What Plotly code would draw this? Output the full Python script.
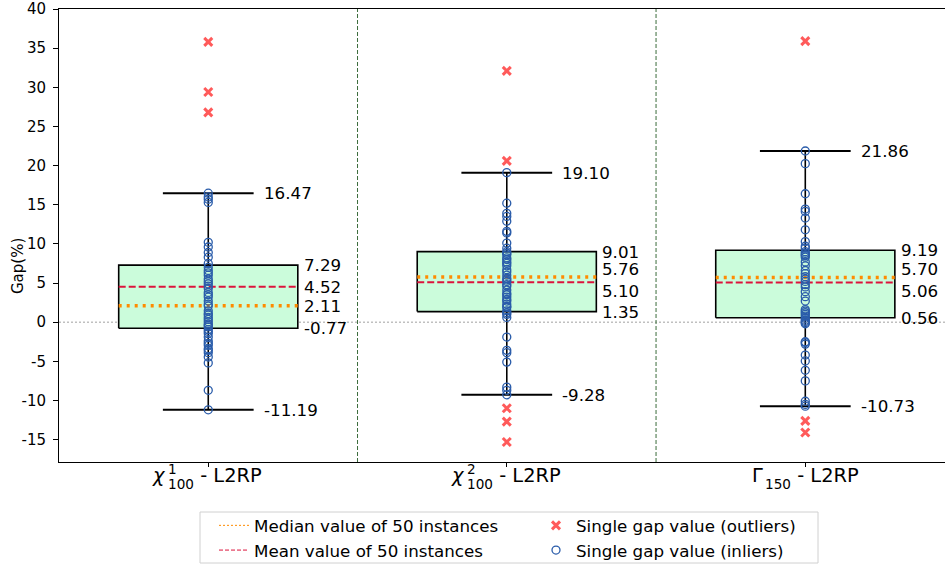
import plotly.graph_objects as go

# ---------------- data ----------------
tick_symbol = ["<i>χ</i>", "<i>χ</i>", "Γ"]
tick_sup = ["1", "2", ""]
tick_sub = ["100", "100", "150"]
tick_suffix = " - L2RP"

q1 = [-0.77, 1.35, 0.56]
q3 = [7.29, 9.01, 9.19]
median = [2.11, 5.76, 5.70]
mean = [4.52, 5.10, 5.06]
whisk_lo = [-11.19, -9.28, -10.73]
whisk_hi = [16.47, 19.10, 21.86]

inliers_1 = [16.47, 16.0, 15.7, 15.3, 10.2, 9.6, 8.9, 8.3, 7.5, 7.0, 6.6, 6.3, 6.0, 5.5, 5.2,
             4.9, 4.6, 4.3, 3.8, 3.5, 3.2, 2.7, 2.3, 2.05, 1.45, 1.1, 0.9, 0.6, 0.35, 0.05,
             -0.25, -0.4, -0.6, -0.95, -1.2, -1.45, -1.9, -2.4, -2.7, -2.95, -3.4, -3.6,
             -3.9, -4.45, -5.2, -8.7, -11.19]
outliers_1 = [35.8, 29.4, 26.8]

inliers_2 = [19.10, 15.2, 13.9, 13.5, 12.9, 11.6, 11.4, 10.1, 9.45, 9.0, 8.8, 8.6, 8.2, 8.0,
             7.7, 7.5, 7.2, 6.7, 6.4, 6.0, 5.6, 5.4, 5.2, 4.8, 4.6, 4.1, 3.7, 3.5, 3.2, 2.9,
             2.7, 2.3, 2.0, 1.9, 1.45, 1.2, 1.0, 0.6, -1.9, -3.6, -3.9, -5.1, -8.3, -8.7, -9.28]
outliers_2 = [32.1, 20.6, -11.0, -12.7, -15.3]

inliers_3 = [21.86, 20.25, 16.4, 14.45, 14.15, 13.3, 11.8, 10.3, 9.7, 9.45, 9.0, 8.8, 8.6,
             8.5, 8.3, 7.7, 7.2, 6.6, 6.2, 5.8, 5.5, 5.2, 4.8, 4.5, 3.9, 3.25, 2.7, 1.6, 1.4,
             1.2, 1.0, 0.77, 0.5, 0.26, 0.1, -0.08, -0.2, -2.5, -2.6, -2.8, -4.2, -4.95,
             -6.15, -7.5, -10.1, -10.5, -10.73]
outliers_3 = [35.9, -12.6, -14.1]

inliers = [inliers_1, inliers_2, inliers_3]
outliers = [outliers_1, outliers_2, outliers_3]

y_ticks = [-15, -10, -5, 0, 5, 10, 15, 20, 25, 30, 35, 40]
y_ticktext = [str(v) for v in y_ticks]
y_title = "Gap(%)"

legend_names = ["Median value of 50 instances", "Single gap value (outliers)",
                "Mean value of 50 instances", "Single gap value (inliers)"]

# ---------------- style ----------------
FONT = "DejaVu Sans"
BOX_HW = 0.30
CAP_HW = 0.152
BOX_FILL = "#cbfcdb"
MED_COL = "#ff8c00"
MEAN_COL = "#dc143c"
OUT_COL = "#ff5a5a"
IN_COL = "#2a5caa"

W, H = 945, 567
ML, MR, MT, MB = 59, 0, 9, 105
PW, PH = W - ML - MR, H - MT - MB


def px_to_paper_x(px):
    return (px - ML) / PW


def px_to_paper_y(py):
    return (H - MB - py) / PH


fig = go.Figure()
n = len(q1)

# boxes
bx, by = [], []
for i in range(n):
    bx += [i - BOX_HW, i + BOX_HW, i + BOX_HW, i - BOX_HW, i - BOX_HW, None]
    by += [q1[i], q1[i], q3[i], q3[i], q1[i], None]
fig.add_trace(go.Scatter(x=bx, y=by, mode="lines", fill="toself", fillcolor=BOX_FILL,
                         line=dict(color="black", width=1.6), showlegend=False, hoverinfo="skip"))

# whiskers
wx, wy = [], []
for i in range(n):
    wx += [i, i, None, i, i, None]
    wy += [q3[i], whisk_hi[i], None, q1[i], whisk_lo[i], None]
fig.add_trace(go.Scatter(x=wx, y=wy, mode="lines", line=dict(color="black", width=1.6),
                         showlegend=False, hoverinfo="skip"))

# caps
cx, cy = [], []
for i in range(n):
    cx += [i - CAP_HW, i + CAP_HW, None, i - CAP_HW, i + CAP_HW, None]
    cy += [whisk_hi[i], whisk_hi[i], None, whisk_lo[i], whisk_lo[i], None]
fig.add_trace(go.Scatter(x=cx, y=cy, mode="lines", line=dict(color="black", width=2),
                         showlegend=False, hoverinfo="skip"))

# mean lines
mx, my = [], []
for i in range(n):
    mx += [i - BOX_HW, i + BOX_HW, None]
    my += [mean[i], mean[i], None]
fig.add_trace(go.Scatter(x=mx, y=my, mode="lines",
                         line=dict(color=MEAN_COL, width=2, dash="7px,3px"),
                         showlegend=False, hoverinfo="skip"))

# median lines
dx, dy = [], []
for i in range(n):
    dx += [i - BOX_HW, i + BOX_HW, None]
    dy += [median[i], median[i], None]
fig.add_trace(go.Scatter(x=dx, y=dy, mode="lines",
                         line=dict(color=MED_COL, width=3.5, dash="3px,5px"),
                         showlegend=False, hoverinfo="skip"))

# points
ix, iy, ox, oy = [], [], [], []
for i in range(n):
    ix += [i] * len(inliers[i]); iy += inliers[i]
    ox += [i] * len(outliers[i]); oy += outliers[i]
fig.add_trace(go.Scatter(x=ix, y=iy, mode="markers", showlegend=False,
                         marker=dict(symbol="circle-open", size=8, color=IN_COL,
                                     line=dict(width=1.3, color=IN_COL))))
fig.add_trace(go.Scatter(x=ox, y=oy, mode="markers", showlegend=False,
                         marker=dict(symbol="x-thin", size=8, color=OUT_COL,
                                     line=dict(width=3, color=OUT_COL))))

# legend entries (row-major order)
fig.add_trace(go.Scatter(x=[None], y=[None], mode="lines", name=legend_names[0],
                         line=dict(color=MED_COL, width=1, dash="2px,2px")))
fig.add_trace(go.Scatter(x=[None], y=[None], mode="markers", name=legend_names[1],
                         marker=dict(symbol="x-thin", size=8, color=OUT_COL,
                                     line=dict(width=3, color=OUT_COL))))
fig.add_trace(go.Scatter(x=[None], y=[None], mode="lines", name=legend_names[2],
                         line=dict(color=MEAN_COL, width=1, dash="4px,2px")))
fig.add_trace(go.Scatter(x=[None], y=[None], mode="markers", name=legend_names[3],
                         marker=dict(symbol="circle-open", size=8, color=IN_COL,
                                     line=dict(width=1.3, color=IN_COL))))

annotations = []
lab_font = dict(family=FONT, size=16.7, color="black")
for i in range(n):
    # whisker labels
    for v in (whisk_hi[i], whisk_lo[i]):
        annotations.append(dict(x=i + CAP_HW, y=v, xref="x", yref="y", text=f"{v:.2f}",
                                showarrow=False, xanchor="left", yanchor="middle",
                                xshift=9, font=lab_font, borderpad=0))
    # box labels
    med_y, mean_y = median[i], mean[i]
    if abs(med_y - mean_y) < 2.0:
        mid = (med_y + mean_y) / 2
        sgn = 1 if med_y >= mean_y else -1
        med_y, mean_y = mid + sgn * 1.41, mid - sgn * 1.41
    for v, yy in ((q3[i], q3[i]), (median[i], med_y), (mean[i], mean_y), (q1[i], q1[i])):
        annotations.append(dict(x=i + BOX_HW, y=yy, xref="x", yref="y", text=f"{v:.2f}",
                                showarrow=False, xanchor="left", yanchor="middle",
                                xshift=5, font=lab_font, borderpad=0))
    # x tick labels (mathtext-like)
    tk_font = dict(family=FONT, size=19.4, color="black")
    sm_font = dict(family=FONT, size=13.6, color="black")
    base = -13
    annotations.append(dict(x=i, y=0, xref="x", yref="paper", text=tick_symbol[i],
                            showarrow=False, xanchor="right", yanchor="middle",
                            xshift=-41, yshift=base, font=tk_font, borderpad=0))
    if tick_sup[i]:
        annotations.append(dict(x=i, y=0, xref="x", yref="paper", text=tick_sup[i],
                                showarrow=False, xanchor="left", yanchor="middle",
                                xshift=-41, yshift=base + 6, font=sm_font, borderpad=0))
    annotations.append(dict(x=i, y=0, xref="x", yref="paper", text=tick_sub[i],
                            showarrow=False, xanchor="left", yanchor="middle",
                            xshift=-41, yshift=base - 9, font=sm_font, borderpad=0))
    annotations.append(dict(x=i, y=0, xref="x", yref="paper", text=tick_suffix,
                            showarrow=False, xanchor="left", yanchor="middle",
                            xshift=-15, yshift=base, font=tk_font, borderpad=0))

# y-axis title
annotations.append(dict(x=px_to_paper_x(18), y=px_to_paper_y(266), xref="paper", yref="paper",
                        text=y_title, textangle=-90, showarrow=False,
                        xanchor="center", yanchor="middle",
                        font=dict(family=FONT, size=15, color="black")))

shapes = [
    dict(type="line", xref="paper", yref="y", x0=0, x1=1, y0=0, y1=0,
         line=dict(color="#a0a0a0", width=1, dash="2px,2px"), layer="below"),
    # legend frame
    dict(type="rect", xref="paper", yref="paper",
         x0=px_to_paper_x(200), x1=px_to_paper_x(818),
         y0=px_to_paper_y(563), y1=px_to_paper_y(512),
         line=dict(color="#d0d0d0", width=1), fillcolor="rgba(0,0,0,0)"),
]
for s in (0.5, 1.5):
    shapes.append(dict(type="line", xref="x", yref="paper", x0=s, x1=s, y0=0, y1=1,
                       line=dict(color="#3b6b3b", width=1, dash="4px,2px")))

fig.update_layout(
    width=W, height=H,
    margin=dict(l=ML, r=MR, t=MT, b=MB),
    plot_bgcolor="white", paper_bgcolor="white",
    font=dict(family=FONT, color="black"),
    showlegend=True,
    legend=dict(orientation="h", xref="container", yref="container",
                x=214 / W, xanchor="left", y=(H - 508) / H, yanchor="top",
                font=dict(family=FONT, size=16.7, color="black"),
                borderwidth=0, bgcolor="rgba(0,0,0,0)",
                entrywidth=277, tracegroupgap=0),
    annotations=annotations,
    shapes=shapes,
)
fig.update_xaxes(range=[-0.5, 2.468], tickvals=[0, 1, 2], ticktext=["", "", ""],
                 ticks="outside", ticklen=4, tickcolor="black", showline=True,
                 linecolor="black", linewidth=1, mirror=True, showgrid=False, zeroline=False)
fig.update_yaxes(range=[-17.86, 40], tickvals=y_ticks, ticktext=y_ticktext,
                 ticks="outside", ticklen=5, tickcolor="black", showline=True,
                 linecolor="black", linewidth=1, showgrid=False, zeroline=False,
                 ticklabelstandoff=4,
                 tickfont=dict(family=FONT, size=15, color="black"))

fig.write_html("out.html")
